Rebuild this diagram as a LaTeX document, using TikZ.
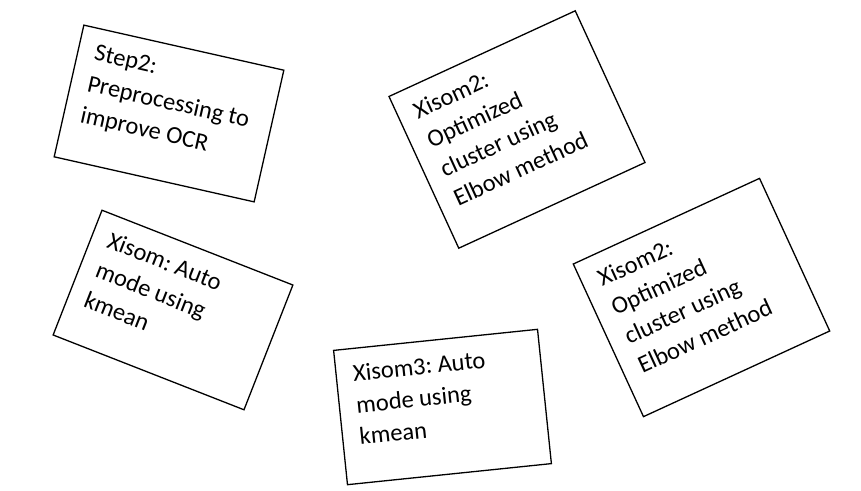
\documentclass[tikz,border=0pt]{standalone}
\usepackage{fontspec}
\setmainfont{Carlito}
\frenchspacing

\begin{document}
\begin{tikzpicture}[x=1pt, y=-1pt, line join=miter, line width=1.3pt]

	\tikzstyle{card}=[draw, rectangle, minimum width=205pt, inner sep=0pt]
	\tikzstyle{words}=[anchor=north west, align=left, inner xsep=17pt, inner ysep=16pt, font=\fontsize{24.5}{32}\selectfont]
    \def\tiltstep{-12.7}
    \def\tiltelbow{24.7}
    \def\tiltauto{-21.4}
    \def\tiltautoo{5.9}

    \useasboundingbox (0,0) rectangle (861,490);

    \node [card, minimum height=135pt, rotate=\tiltstep] (step) at (169,113.5) {};
    \node [words, rotate=\tiltstep] (steptext) at (step.north west)
      {Step2:\\Preprocessing to\\improve OCR};

    \node [card, minimum height=167pt, rotate=\tiltelbow] (elbow) at (517,129.5) {};
    \node [words, rotate=\tiltelbow] (elbowtext) at (elbow.north west)
      {Xisom2:\\Optimized\\cluster using\\Elbow method};

    \node [card, minimum height=134pt, rotate=\tiltauto] (auto) at (173,310) {};
    \node [words, rotate=\tiltauto] (autotext) at (auto.north west)
      {Xisom: Auto\\mode using\\kmean};

    \node [card, minimum height=135pt, rotate=\tiltautoo] (autoo) at (442.5,407) {};
    \node [words, rotate=\tiltautoo] (autootext) at (autoo.north west)
      {Xisom3: Auto\\mode using\\kmean};

    \node [card, minimum height=168pt, rotate=\tiltelbow] (elboww) at (701.5,297.5) {};
    \node [words, rotate=\tiltelbow] (elbowwtext) at (elboww.north west)
      {Xisom2:\\Optimized\\cluster using\\Elbow method};

  \end{tikzpicture}
\end{document}
